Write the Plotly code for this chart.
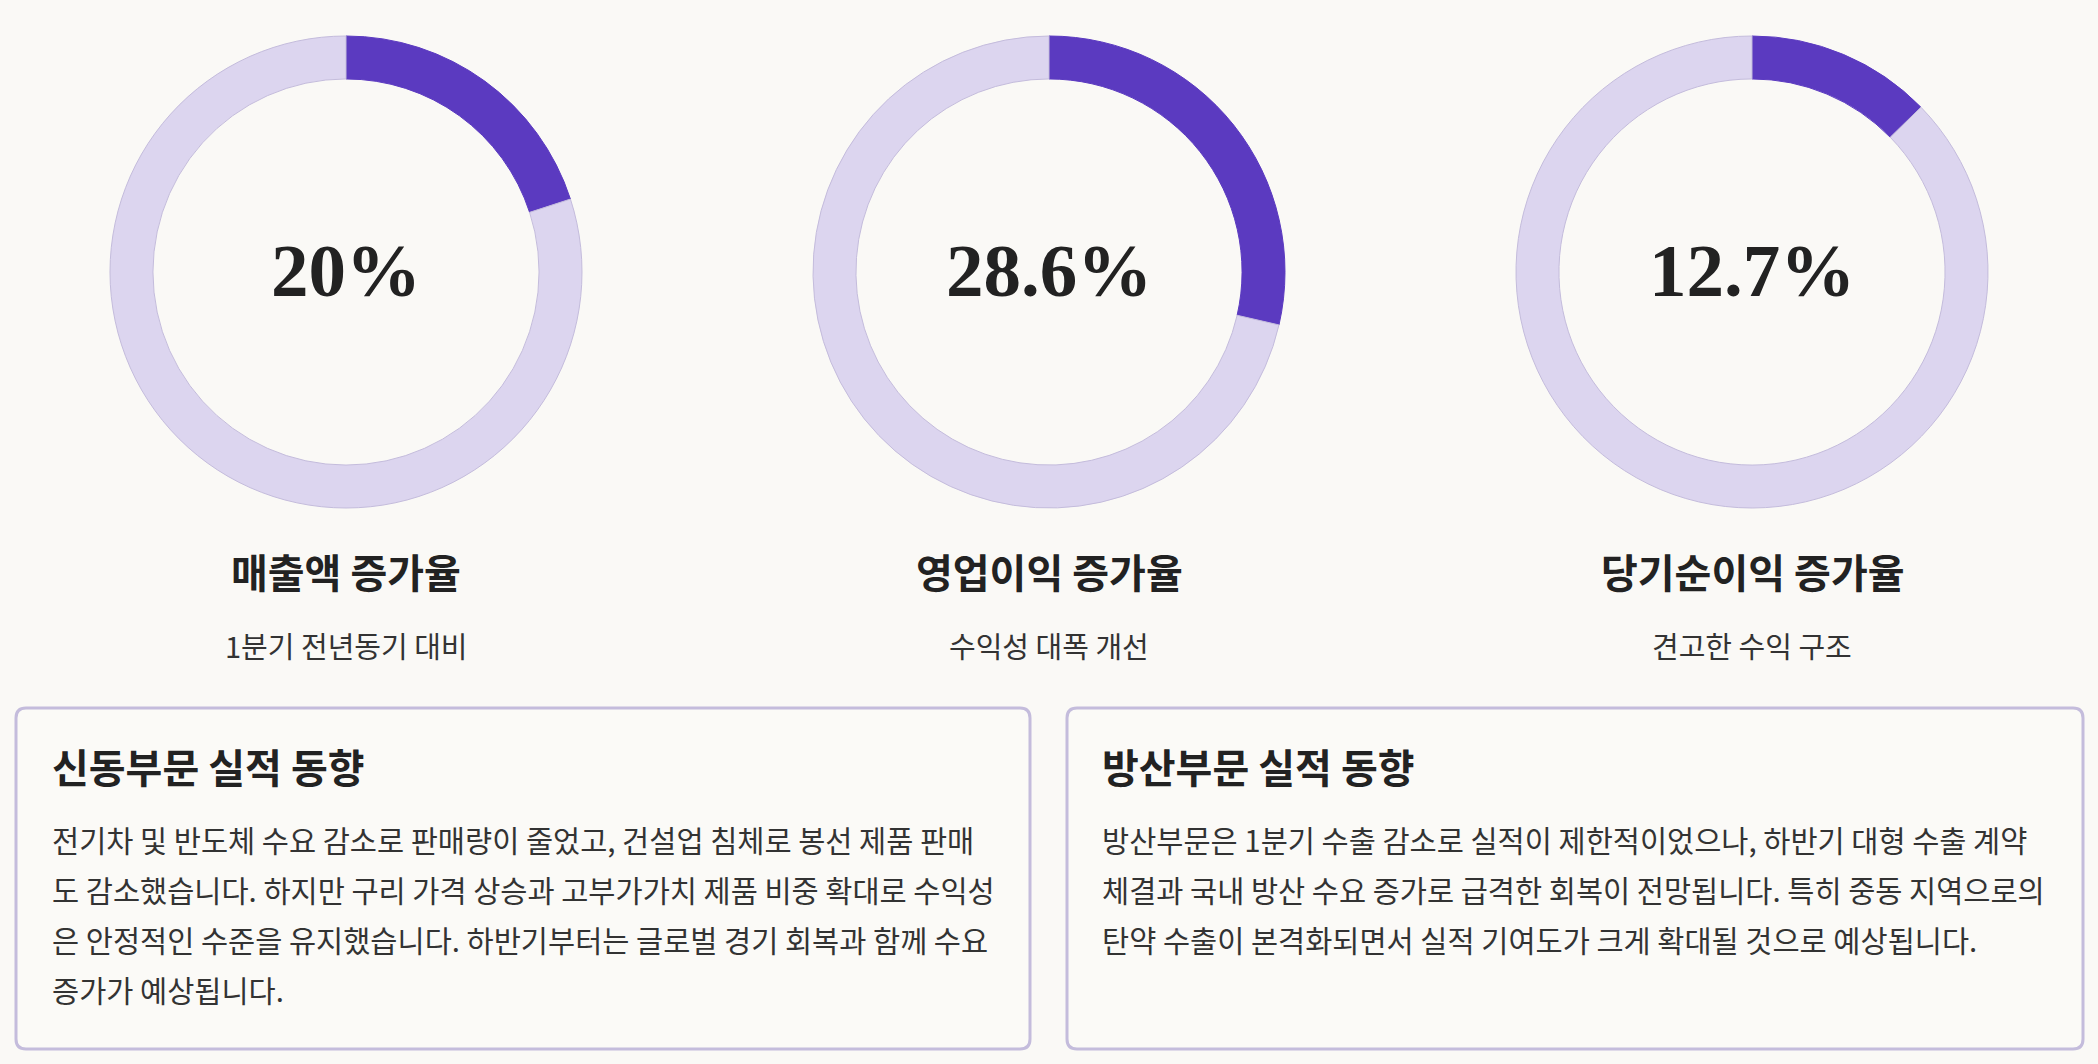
import plotly.graph_objects as go

W, H = 2098, 1064
OFF = 0

# ---- data ----
metric_names = ["매출액 증가율", "영업이익 증가율", "당기순이익 증가율"]
metric_values = [20, 28.6, 12.7]
metric_notes = ["1분기 전년동기 대비", "수익성 대폭 개선", "견고한 수익 구조"]

box_titles = ["신동부문 실적 동향", "방산부문 실적 동향"]
box_lines_left = [
    "전기차 및 반도체 수요 감소로 판매량이 줄었고, 건설업 침체로 봉선 제품 판매",
    "도 감소했습니다. 하지만 구리 가격 상승과 고부가가치 제품 비중 확대로 수익성",
    "은 안정적인 수준을 유지했습니다. 하반기부터는 글로벌 경기 회복과 함께 수요",
    "증가가 예상됩니다.",
]
box_lines_right = [
    "방산부문은 1분기 수출 감소로 실적이 제한적이었으나, 하반기 대형 수출 계약",
    "체결과 국내 방산 수요 증가로 급격한 회복이 전망됩니다. 특히 중동 지역으로의",
    "탄약 수출이 본격화되면서 실적 기여도가 크게 확대될 것으로 예상됩니다.",
]

# ---- style ----
BG = "#FAF9F6"
PURPLE = "#5B3AC0"
LIGHT = "#DCD5EF"
BORDER = "#C4BCDC"
DARK = "#222222"
TEXT = "#333333"
KFONT = "Noto Sans CJK KR"

def px(x):
    return (x - OFF) / W

def py(y):
    return 1 - (y - OFF) / H

centers_x = [346, 1049, 1752]
cy = 272
R = 236

fig = go.Figure()
annotations = []

for i, (name, val, note) in enumerate(zip(metric_names, metric_values, metric_notes)):
    cx = centers_x[i]
    fig.add_trace(go.Pie(
        values=[val, 100 - val],
        labels=["value", "rest"],
        sort=False,
        direction="clockwise",
        rotation=0,
        hole=0.818,
        marker=dict(colors=[PURPLE, LIGHT], line=dict(color=[PURPLE, BORDER], width=1)),
        textinfo="none",
        hoverinfo="skip",
        showlegend=False,
        domain=dict(x=[px(cx - R), px(cx + R)], y=[py(cy + R), py(cy - R)]),
    ))
    annotations.append(dict(
        x=px(cx), y=py(cy - 2), xref="paper", yref="paper",
        text=f"<b>{val:g}%</b>", showarrow=False, xanchor="center", yanchor="middle",
        font=dict(family="Liberation Serif", size=75, color=DARK),
    ))
    annotations.append(dict(
        x=px(cx), y=py(571), xref="paper", yref="paper",
        text=f"<b>{name}</b>", showarrow=False, xanchor="center", yanchor="middle",
        font=dict(family=KFONT, size=40, color=DARK),
    ))
    annotations.append(dict(
        x=px(cx), y=py(645), xref="paper", yref="paper",
        text=note, showarrow=False, xanchor="center", yanchor="middle",
        font=dict(family=KFONT, size=29, color=TEXT),
    ))

# boxes
boxes = [(16, 1030), (1067, 2083)]
top, bottom = 708, 1049
r = 10
shapes = []
for (x0, x1) in boxes:
    path = (
        f"M {px(x0 + r)},{py(top)} L {px(x1 - r)},{py(top)} "
        f"Q {px(x1)},{py(top)} {px(x1)},{py(top + r)} "
        f"L {px(x1)},{py(bottom - r)} "
        f"Q {px(x1)},{py(bottom)} {px(x1 - r)},{py(bottom)} "
        f"L {px(x0 + r)},{py(bottom)} "
        f"Q {px(x0)},{py(bottom)} {px(x0)},{py(bottom - r)} "
        f"L {px(x0)},{py(top + r)} "
        f"Q {px(x0)},{py(top)} {px(x0 + r)},{py(top)} Z"
    )
    shapes.append(dict(type="path", path=path, xref="paper", yref="paper",
                       line=dict(color=BORDER, width=3), fillcolor="#FBFAF7", layer="below"))

text_x = [50, 1100]
for bi, (title, lines) in enumerate(zip(box_titles, [box_lines_left, box_lines_right])):
    annotations.append(dict(
        x=px(text_x[bi]), y=py(766), xref="paper", yref="paper",
        text=f"<b>{title}</b>", showarrow=False, xanchor="left", yanchor="middle",
        font=dict(family=KFONT, size=40, color=DARK),
    ))
    for li, line in enumerate(lines):
        annotations.append(dict(
            x=px(text_x[bi]), y=py(839 + 50 * li), xref="paper", yref="paper",
            text=line, showarrow=False, xanchor="left", yanchor="middle",
            font=dict(family=KFONT, size=29.5, color=TEXT),
        ))

fig.update_layout(
    width=W, height=H,
    margin=dict(l=0, r=0, t=0, b=0),
    paper_bgcolor=BG, plot_bgcolor=BG,
    annotations=annotations,
    shapes=shapes,
    showlegend=False,
)

fig.write_html(
    "out.html",
    config={"displayModeBar": False},
    post_script=(
        "document.body.style.margin='0';"
        "document.body.style.background='" + BG + "';"
        "document.body.style.overflow='hidden';"
    ),
)
